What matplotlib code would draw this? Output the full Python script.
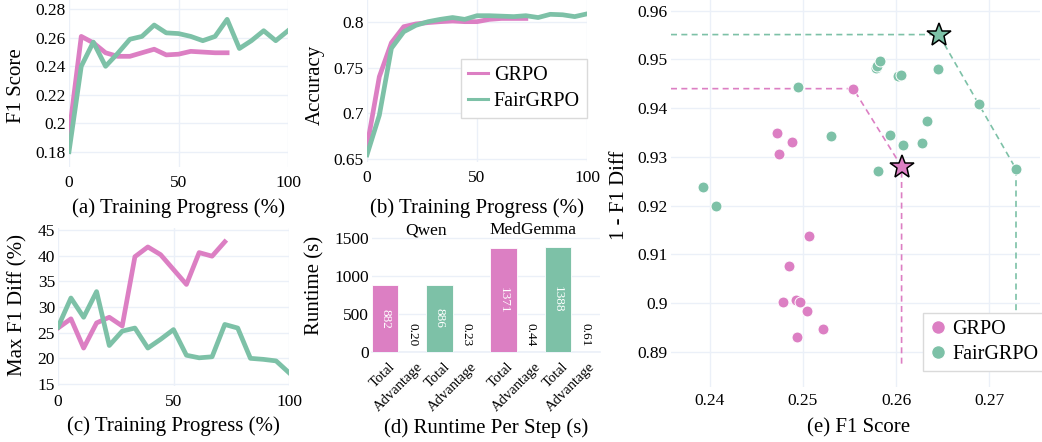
import matplotlib
matplotlib.use('Agg')
import matplotlib.pyplot as plt
from matplotlib.lines import Line2D
from matplotlib.ticker import FixedLocator, FixedFormatter
from matplotlib.transforms import ScaledTranslation, blended_transform_factory

# ---------------- data ----------------
progress = [0, 5.6, 11.1, 16.7, 22.2, 27.8, 33.3, 38.9, 44.4, 50.0, 55.6,
            61.1, 66.7, 72.2, 77.8, 83.3, 88.9, 94.4, 100]
grpo_f1 = [0.192, 0.261, 0.2565, 0.2495, 0.247, 0.247, 0.2495, 0.252, 0.248,
           0.2485, 0.2505, 0.250, 0.2495, 0.2495]
fair_f1 = [0.180, 0.240, 0.257, 0.240, 0.249, 0.259, 0.261, 0.269, 0.2635,
           0.263, 0.261, 0.258, 0.261, 0.273, 0.2525, 0.258, 0.265, 0.258, 0.265]
grpo_acc = [0.664, 0.740, 0.777, 0.7945, 0.7975, 0.799, 0.800, 0.8007, 0.800,
            0.800, 0.8025, 0.8035, 0.8035, 0.8035]
fair_acc = [0.655, 0.698, 0.771, 0.789, 0.796, 0.800, 0.8025, 0.8045, 0.8025,
            0.8065, 0.8065, 0.806, 0.8055, 0.8065, 0.8045, 0.808, 0.8075, 0.8055, 0.8085]
grpo_maxdiff = [25.9, 27.7, 22.0, 26.9, 28.0, 26.3, 39.8, 41.7, 40.2, 37.3,
                34.4, 40.6, 39.9, 42.7]
fair_maxdiff = [26.1, 31.75, 28.0, 33.0, 22.5, 25.3, 25.9, 22.0, 23.7, 25.6,
                20.6, 20.1, 20.3, 26.6, 25.9, 20.0, 19.8, 19.5, 17.2]

f1_ticks = [0.18, 0.2, 0.22, 0.24, 0.26, 0.28]
acc_ticks = [0.65, 0.7, 0.75, 0.8]
diff_ticks = [15, 20, 25, 30, 35, 40, 45]
progress_ticks = [0, 50, 100]

bar_groups = ['Qwen', 'MedGemma']
bar_methods = ['GRPO', 'GRPO', 'FairGRPO', 'FairGRPO',
               'GRPO', 'GRPO', 'FairGRPO', 'FairGRPO']
bar_labels = ['Total', 'Advantage', 'Total', 'Advantage',
              'Total', 'Advantage', 'Total', 'Advantage']
runtime_values = [882, 0.20, 886, 0.23, 1371, 0.44, 1388, 0.61]
runtime_ticks = [0, 500, 1000, 1500]

grpo_sc_f1 = [0.2472, 0.2488, 0.2474, 0.2554, 0.2506, 0.2485, 0.2479,
              0.2493, 0.2497, 0.2504, 0.2521, 0.2494]
grpo_sc_fair = [0.9348, 0.9331, 0.9306, 0.9440, 0.9138, 0.9075, 0.9002,
                0.9007, 0.9001, 0.8984, 0.8947, 0.8930]
fair_sc_f1 = [0.2392, 0.2406, 0.2495, 0.2530, 0.2578, 0.2580, 0.2583, 0.2581,
              0.2594, 0.2602, 0.2605, 0.2608, 0.2628, 0.2633, 0.2645, 0.2689, 0.2729]
fair_sc_fair = [0.9239, 0.9199, 0.9443, 0.9343, 0.9482, 0.9487, 0.9497, 0.9270,
                0.9345, 0.9465, 0.9469, 0.9325, 0.9329, 0.9374, 0.9480, 0.9408, 0.9275]
grpo_best = (0.2606, 0.9280)
fair_best = (0.2646, 0.9551)
grpo_front_f1 = [0.2554, 0.2606]
grpo_front_fair = [0.9440, 0.9280]
fair_front_f1 = [0.2646, 0.2689, 0.2729]
fair_front_fair = [0.9551, 0.9408, 0.9275]
front_floor = 0.8867
e_xticks = [0.24, 0.25, 0.26, 0.27]
e_yticks = [0.89, 0.9, 0.91, 0.92, 0.93, 0.94, 0.95, 0.96]

# ---------------- style ----------------
W, H = 1042, 442
PINK = '#DC7FC3'
GREEN = '#7DC1A7'
GRID = '#EBF0F8'
plt.rcParams['font.family'] = ['Liberation Serif', 'DejaVu Serif']
TICK_FS = 12.5
TITLE_FS = 15
LW = 3.4

fig = plt.figure(figsize=(W / 100, H / 100), dpi=100)


def add_ax(l, t, r, b):
    return fig.add_axes([l / W, 1 - b / H, (r - l) / W, (b - t) / H])


def style(ax, xticks=None, yticks=None, xgrid=True, xpad=5.5):
    for s in ax.spines.values():
        s.set_visible(False)
    ax.tick_params(axis='both', length=0, labelsize=TICK_FS)
    ax.tick_params(axis='x', pad=xpad)
    ax.tick_params(axis='y', pad=2.2)
    if xticks is not None:
        ax.xaxis.set_major_locator(FixedLocator(xticks))
        ax.xaxis.set_major_formatter(FixedFormatter([f'{v:g}' for v in xticks]))
    if yticks is not None:
        ax.yaxis.set_major_locator(FixedLocator(yticks))
        ax.yaxis.set_major_formatter(FixedFormatter([f'{v:g}' for v in yticks]))
    ax.grid(True, axis='y', color=GRID, lw=1)
    if xgrid:
        ax.grid(True, axis='x', color=GRID, lw=1)
    ax.set_axisbelow(True)


def ftext(x, y, s, **kw):
    fig.text(x / W, 1 - y / H, s, ha='center', va='center', **kw)


# (a) F1 score
axA = add_ax(69, 0, 288, 167)
axA.plot(progress[:len(grpo_f1)], grpo_f1, color=PINK, lw=LW)
axA.plot(progress, fair_f1, color=GREEN, lw=LW)
axA.set_xlim(0, 100)
axA.set_ylim(0.1692, 0.2866)
style(axA, progress_ticks, f1_ticks)
ftext(16.3, 86, 'F1 Score', rotation=90, fontsize=TITLE_FS)
ftext(178, 208, '(a) Training Progress (%)', fontsize=TITLE_FS)

# (b) Accuracy
axB = add_ax(367, 0, 587, 162)
axB.plot(progress[:len(grpo_acc)], grpo_acc, color=PINK, lw=LW)
axB.plot(progress, fair_acc, color=GREEN, lw=LW)
axB.set_xlim(0, 100)
axB.set_ylim(0.6471, 0.8236)
style(axB, progress_ticks, acc_ticks)
ftext(315, 84.5, 'Accuracy', rotation=90, fontsize=TITLE_FS)
ftext(477, 208, '(b) Training Progress (%)', fontsize=TITLE_FS)
handles = [Line2D([], [], color=PINK, lw=2.2), Line2D([], [], color=GREEN, lw=2.2)]
legB = fig.legend(handles, ['GRPO', 'FairGRPO'], loc='upper left',
                  bbox_to_anchor=(460.7 / W, 1 - 59.3 / H), borderaxespad=0,
                  fontsize=14.5, handlelength=1.0, handletextpad=0.3,
                  borderpad=0.35, labelspacing=0.3, fancybox=False,
                  edgecolor='#DADADA', framealpha=1)
legB.get_frame().set_linewidth(1.0)

# (c) Max F1 diff
axC = add_ax(58, 228, 289, 386)
axC.plot(progress[:len(grpo_maxdiff)], grpo_maxdiff, color=PINK, lw=LW)
axC.plot(progress, fair_maxdiff, color=GREEN, lw=LW)
axC.set_xlim(0, 100)
axC.set_ylim(14.61, 45.39)
style(axC, progress_ticks, diff_ticks)
ftext(17.5, 305, 'Max F1 Diff (%)', rotation=90, fontsize=TITLE_FS)
ftext(173, 426, '(c) Training Progress (%)', fontsize=TITLE_FS)

# (d) Runtime
axD = add_ax(372, 228, 600, 352)
slot = [0, 1, 2, 3, 4.35, 5.35, 6.35, 7.35]
for p, v, m in zip(slot, runtime_values, bar_methods):
    c = PINK if m == 'GRPO' else GREEN
    axD.bar(p, v, width=0.97, color=c, edgecolor='white', linewidth=0.6)
    if v >= 100:
        axD.text(p, v / 2, f'{v:.0f}', rotation=-90, ha='center', va='center',
                 rotation_mode='anchor', color='white', fontsize=9.5)
    else:
        axD.annotate(f'{v:.2f}', (p, v), xytext=(0, 4), textcoords='offset points',
                     rotation=-90, ha='right', va='center', rotation_mode='anchor',
                     color='black', fontsize=9.5)
axD.set_xlim(-0.49, 7.9)
axD.set_ylim(0, 1632)
style(axD, None, runtime_ticks, xgrid=False)
axD.axhline(0, color=GRID, lw=1.2, zorder=0.5, clip_on=False)
axD.set_xticks([])
lab_tr = blended_transform_factory(axD.transData, axD.transAxes) + \
    ScaledTranslation(8 / 100, -13 / 100, fig.dpi_scale_trans)
for p, lab in zip(slot, bar_labels):
    axD.text(p, 0, lab, transform=lab_tr, rotation=45, ha='right', va='center',
             rotation_mode='anchor', fontsize=10.5, clip_on=False)
axD.text(1.5, 1605, bar_groups[0], ha='center', va='center', fontsize=12.5)
axD.text(5.43, 1605, bar_groups[1], ha='center', va='center', fontsize=12.5)
ftext(315, 285, 'Runtime (s)', rotation=90, fontsize=TITLE_FS)
ftext(486, 428, '(d) Runtime Per Step (s)', fontsize=TITLE_FS)

# (e) scatter
axE = add_ax(671, 0, 1040, 387)
xl = (0.23581, 0.27548)
axE.set_xlim(*xl)
axE.set_ylim(0.88275, 0.9622)
style(axE, e_xticks, e_yticks, xpad=4)
dash = dict(lw=1.2, dashes=(3.6, 2.6), zorder=2)
axE.plot([xl[0]] + grpo_front_f1 + [grpo_front_f1[-1]],
         [grpo_front_fair[0]] + grpo_front_fair + [front_floor], color=PINK, **dash)
axE.plot([xl[0]] + fair_front_f1 + [fair_front_f1[-1]],
         [fair_front_fair[0]] + fair_front_fair + [front_floor], color=GREEN, **dash)
axE.scatter(grpo_sc_f1, grpo_sc_fair, s=62, color=PINK, edgecolor='white',
            linewidth=0.7, zorder=3)
axE.scatter(fair_sc_f1, fair_sc_fair, s=62, color=GREEN, edgecolor='white',
            linewidth=0.7, zorder=3)
axE.plot(*grpo_best, marker='*', ms=18, color=PINK, mec='black', mew=1.1, zorder=5)
axE.plot(*fair_best, marker='*', ms=18, color=GREEN, mec='black', mew=1.1, zorder=5)
ftext(619, 195, '1 - F1 Diff', rotation=90, fontsize=TITLE_FS)
ftext(859, 428, '(e) F1 Score', fontsize=TITLE_FS)
hE = [Line2D([], [], ls='none', marker='o', ms=10, color=PINK, mec='white'),
      Line2D([], [], ls='none', marker='o', ms=10, color=GREEN, mec='white')]
legE = fig.legend(hE, ['GRPO', 'FairGRPO'], loc='upper left',
                  bbox_to_anchor=(923.3 / W, 1 - 312.7 / H), borderaxespad=0,
                  fontsize=14.5, handlelength=0.8, handletextpad=0.3,
                  borderpad=0.35, labelspacing=0.3, fancybox=False,
                  edgecolor='#DADADA', framealpha=1)
legE.get_frame().set_linewidth(1.0)

fig.savefig('out.png', dpi=100)
